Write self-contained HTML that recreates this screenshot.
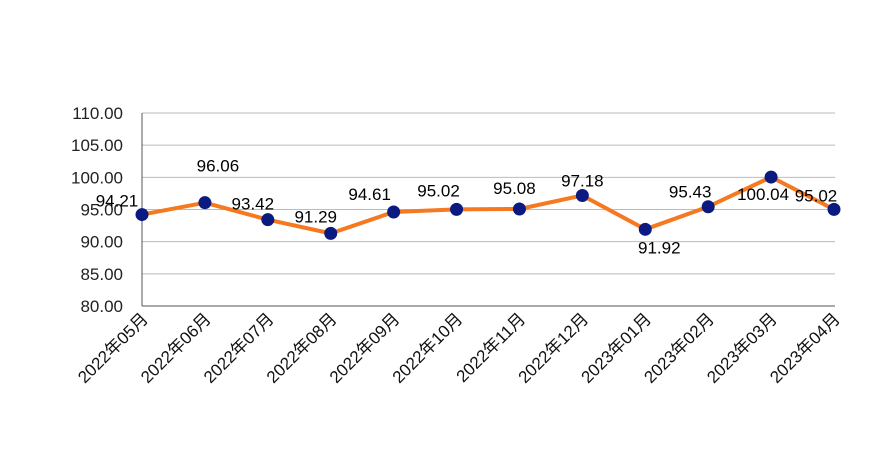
<!DOCTYPE html>
<html><head><meta charset="utf-8"><style>
html,body{margin:0;padding:0;background:#fff;}
svg{display:block;font-family:"Liberation Sans","Noto Sans CJK SC",sans-serif;}
</style></head><body>
<svg id="chart" width="876" height="453" viewBox="0 0 876 453" xmlns="http://www.w3.org/2000/svg"></svg>
<script>
const categories = ["2022年05月","2022年06月","2022年07月","2022年08月","2022年09月","2022年10月","2022年11月","2022年12月","2023年01月","2023年02月","2023年03月","2023年04月"];
const values = [94.21,96.06,93.42,91.29,94.61,95.02,95.08,97.18,91.92,95.43,100.04,95.02];
const valueLabels = ["94.21","96.06","93.42","91.29","94.61","95.02","95.08","97.18","91.92","95.43","100.04","95.02"];
const yTicks = [80,85,90,95,100,105,110];
const yTickLabels = ["80.00","85.00","90.00","95.00","100.00","105.00","110.00"];
// label placement offsets (style, not data)
const labDx = [-25,13,-15,-15,-24,-18,-5,0,14,-18,-8,-18];
const labDy = [-14,-37,-16,-17,-18,-19,-21,-15,18,-15,17,-14];

const svg = document.getElementById('chart');
const NS = 'http://www.w3.org/2000/svg';
const X0 = 142, X1 = 834, Y0 = 306, Y1 = 113, VMIN = 80, VMAX = 110;
const xPos = i => X0 + i * (X1 - X0) / (categories.length - 1);
const yPos = v => Y0 - (v - VMIN) / (VMAX - VMIN) * (Y0 - Y1);
function mk(tag, attrs, parent) {
  const el = document.createElementNS(NS, tag);
  for (const k in attrs) el.setAttribute(k, attrs[k]);
  (parent || svg).appendChild(el);
  return el;
}
yTicks.forEach((t, i) => {
  const y = yPos(t);
  const g = mk('line', {x1: X0, x2: X1 + 1, y1: y, y2: y, stroke: i === 0 ? '#555' : '#bbb', 'stroke-width': 1});
  
  
  const tx = mk('text', {x: 123, y: y + 6, 'text-anchor': 'end', 'font-size': 17, fill: '#222'});
  tx.textContent = yTickLabels[i];
  
  
});
const ax = mk('line', {x1: X0, x2: X0, y1: Y1, y2: Y0, stroke: '#555', 'stroke-width': 1});


categories.forEach((c, i) => {
  const x = xPos(i) + 7, y = Y0 + 14;
  const t = mk('text', {x: x, y: y, 'text-anchor': 'end', 'font-size': 17, fill: '#111', transform: 'rotate(-45 ' + x + ' ' + y + ')'});
  t.textContent = c;
  
  
});
const pts = values.map((v, i) => xPos(i) + ',' + yPos(v)).join(' ');
const line = mk('polyline', {points: pts, fill: 'none', stroke: '#f47920', 'stroke-width': 4, 'stroke-linejoin': 'round'});


values.forEach((v, i) => {
  const c = mk('circle', {cx: xPos(i), cy: yPos(v), r: 6.5, fill: '#0a1a80'});
  
  
});
values.forEach((v, i) => {
  const t = mk('text', {x: xPos(i) + labDx[i], y: yPos(v) + labDy[i] + 6, 'text-anchor': 'middle', 'font-size': 17, fill: '#000'});
  t.textContent = valueLabels[i];
  
  
});
</script>
</body></html>
